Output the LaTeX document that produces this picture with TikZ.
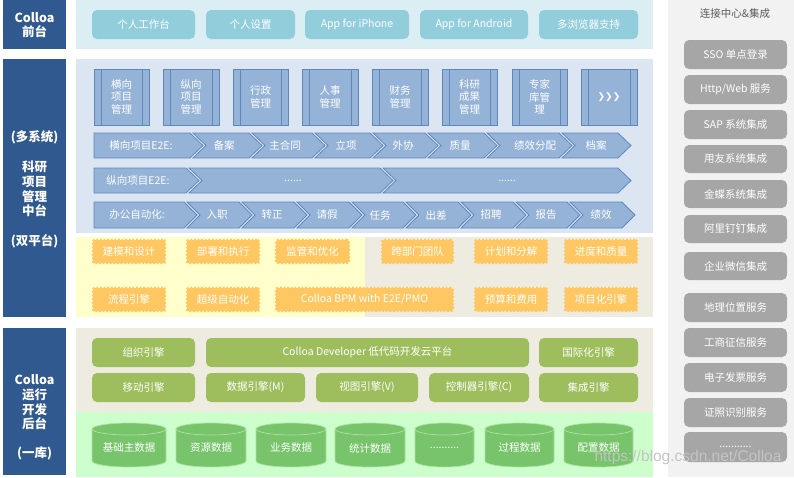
\documentclass[tikz,border=0pt]{standalone}
\usepackage{fontspec}
\setmainfont{Noto Sans CJK SC}
\newfontfamily\wmfont{Liberation Sans}
\newfontfamily\djv{DejaVu Sans}
\definecolor{navy}{HTML}{30598F}
\definecolor{topbg}{HTML}{DAEEF3}
\definecolor{topbtn}{HTML}{92CDDC}
\definecolor{midbg}{HTML}{DCE6F2}
\definecolor{modfill}{HTML}{95B3D7}
\definecolor{modline}{HTML}{5F86BD}
\definecolor{ylbg}{HTML}{FFFFCC}
\definecolor{beige}{HTML}{EEECE1}
\definecolor{badgec}{HTML}{FFC761}
\definecolor{grnbtn}{HTML}{9EBE5E}
\definecolor{grnbg}{HTML}{CCFFCC}
\definecolor{cylf}{HTML}{77C46B}
\definecolor{cyll}{HTML}{B0E0A8}
\definecolor{rpbg}{HTML}{F2F2F2}
\definecolor{graybtn}{HTML}{A6A6A6}
\definecolor{ttl}{HTML}{595959}
\definecolor{wmc}{HTML}{C4C4C4}
\tikzset{
  txtbase/.style={inner sep=0pt, outer sep=0pt, align=center, font=\fontsize{10.5}{12.5}\selectfont, text=white},
  panel/.style={inner sep=0pt, outer sep=0pt},
  topb/.style={txtbase, fill=topbtn, rounded corners=5pt},
  modb/.style={txtbase, fill=modfill, draw=modline, line width=0.8pt},
  chevs/.style={fill=modfill, draw=modline, line width=0.8pt},
  badge/.style={txtbase, fill=badgec, draw=badgec, line width=2.4pt, dash pattern=on 1.8pt off 1.8pt, rounded corners=2pt},
  grnb/.style={txtbase, fill=grnbtn, rounded corners=5pt},
  grayb/.style={txtbase, fill=graybtn, rounded corners=5pt},
  navyb/.style={panel, fill=navy},
  lefttxt/.style={inner sep=0pt, text=white, font=\bfseries\fontsize{12.5}{14.7}\selectfont, align=center},
  lbl/.style={inner sep=0pt, text=white, font=\fontsize{10.5}{12.5}\selectfont},
}
\newcommand\mkbox[7]{\node[#1, minimum width={(#5)-(#3)}, minimum height={(#6)-(#4)}] (#2) at ({((#3)+(#5))/2},{((#4)+(#6))/2}) {#7};}
\newcommand\modbox[4]{\mkbox{modb}{#1}{#2}{69}{#3}{125}{#4}
  \draw[modline, line width=0.8pt] ([xshift=7pt]#1.north west) -- ([xshift=7pt]#1.south west);
  \draw[modline, line width=0.8pt] ([xshift=-7pt]#1.north east) -- ([xshift=-7pt]#1.south east);}
\newcommand\pent[7]{\draw[chevs] (#2,#4) -- ({#3-13},#4) -- (#3,{(#4+#5)/2}) -- ({#3-13},#5) -- (#2,#5) -- cycle;
  \node[lbl] (#1) at (#6,{(#4+#5)/2}) {#7};}
\newcommand\chev[7]{\draw[chevs] (#2,#4) -- ({#3-13},#4) -- (#3,{(#4+#5)/2}) -- ({#3-13},#5) -- (#2,#5) -- ({#2+13},{(#4+#5)/2}) -- cycle;
  \node[lbl] (#1) at (#6,{(#4+#5)/2}) {#7};}
\newcommand\cyl[4]{\pgfmathsetmacro\cylrx{((#3)-(#2))/2}
  \filldraw[fill=cylf, draw=cyll, line width=0.7pt] (#2,429) -- (#2,461) arc[start angle=180, end angle=360, x radius={\cylrx pt}, y radius=6pt] -- (#3,429) arc[start angle=0, end angle=180, x radius={\cylrx pt}, y radius=6pt] -- cycle;
  \draw[cyll, line width=0.7pt] (#2,429) arc[start angle=180, end angle=360, x radius={\cylrx pt}, y radius=6pt];
  \node[lbl] (#1) at ({((#2)+(#3))/2},448) {#4};}
\begin{document}
\begin{tikzpicture}[x=1pt,y=-1pt]
\useasboundingbox (0,0) rectangle (794,477);
\fill[white] (0,0) rectangle (794,477);
% panels
\mkbox{panel, fill=topbg}{ptop}{76}{0}{653}{49}{}
\mkbox{panel, fill=midbg}{pmid}{76}{59}{653}{233}{}
\mkbox{panel, fill=ylbg}{pyel}{76}{237}{365}{317}{}
\mkbox{panel, fill=beige}{pbei}{365}{237}{653}{317}{}
\mkbox{panel, fill=beige}{pdev}{76}{328}{653}{412}{}
\mkbox{panel, fill=grnbg}{pgrn}{76}{412}{653}{477}{}
\mkbox{panel, fill=rpbg}{pright}{668}{0}{794}{477}{}
% left column
\mkbox{navyb}{L1}{3}{0}{66}{49}{}
\mkbox{navyb}{L2}{3}{59}{66}{317}{}
\mkbox{navyb}{L3}{3}{328}{66}{475}{}
\node[lefttxt] (l1t) at (34.5,25) {Colloa\\前台};
\node[lefttxt] (l2a) at (34.5,137) {(多系统)};
\node[lefttxt] (l2b) at (34.5,189) {科研\\项目\\管理\\中台};
\node[lefttxt] (l2c) at (34.5,241) {(双平台)};
\node[lefttxt] (l3a) at (34.5,402.5) {Colloa\\运行\\开发\\后台};
\node[lefttxt] (l3b) at (34.5,453) {(一库)};
% top buttons
\mkbox{topb}{t1}{92}{10}{195}{39}{个人工作台}
\mkbox{topb}{t2}{206}{10}{295}{39}{个人设置}
\mkbox{topb}{t3}{305}{10}{409}{39}{App for iPhone}
\mkbox{topb}{t4}{420}{10}{528}{39}{App for Android}
\mkbox{topb}{t5}{539}{10}{638}{39}{多浏览器支持}
% modules
\modbox{m1}{94}{149}{横向\\项目\\管理}
\modbox{m2}{163}{219}{纵向\\项目\\管理}
\modbox{m3}{233}{288}{行政\\管理}
\modbox{m4}{302}{358}{人事\\管理}
\modbox{m5}{372}{428}{财务\\管理}
\modbox{m6}{442}{497}{科研\\成果\\管理}
\modbox{m7}{512}{567}{专家\\库管\\理}
\modbox{m8}{581}{637}{{\djv\fontsize{9}{10}\selectfont ❯❯❯}}
% chevron row 1
\pent{r1a}{94}{203}{133}{158}{141}{横向项目E2E:}
\chev{r1b}{193}{262}{133}{158}{224}{备案}
\chev{r1c}{252}{325}{133}{158}{285}{主合同}
\chev{r1d}{315}{383}{133}{158}{346}{立项}
\chev{r1e}{373}{438}{133}{158}{403}{外协}
\chev{r1f}{428}{497}{133}{158}{460}{质量}
\chev{r1g}{487}{572}{133}{158}{535}{绩效分配}
\chev{r1h}{562}{631}{133}{158}{596}{档案}
% chevron row 2
\pent{r2a}{94}{199}{168}{193}{138}{纵向项目E2E:}
\chev{r2b}{189}{393}{168}{193}{293}{......}
\chev{r2c}{383}{631}{168}{193}{507}{......}
% chevron row 3
\pent{r3a}{94}{197}{202}{228}{137}{办公自动化:}
\chev{r3b}{187}{252}{202}{228}{217}{入职}
\chev{r3c}{242}{307}{202}{228}{272}{转正}
\chev{r3d}{297}{362}{202}{228}{327}{请假}
\chev{r3e}{352}{416}{202}{228}{380}{任务}
\chev{r3f}{406}{471}{202}{228}{436}{出差}
\chev{r3g}{461}{526}{202}{228}{491}{招聘}
\chev{r3h}{516}{580}{202}{228}{546}{报告}
\chev{r3i}{570}{635}{202}{228}{601}{绩效}
% badges
\mkbox{badge}{b1}{93}{240}{165}{263}{建模和设计}
\mkbox{badge}{b2}{187}{240}{259}{263}{部署和执行}
\mkbox{badge}{b3}{276}{240}{349}{263}{监管和优化}
\mkbox{badge}{b4}{382}{240}{453}{263}{跨部门团队}
\mkbox{badge}{b5}{475}{240}{547}{263}{计划和分解}
\mkbox{badge}{b6}{565}{240}{637}{263}{进度和质量}
\mkbox{badge}{b7}{93}{288}{165}{311}{流程引擎}
\mkbox{badge}{b8}{187}{288}{259}{311}{超级自动化}
\mkbox{badge}{b9}{276}{288}{453}{311}{Colloa BPM with E2E/PMO}
\mkbox{badge}{b10}{475}{288}{547}{311}{预算和费用}
\mkbox{badge}{b11}{565}{288}{637}{311}{项目化引擎}
% green buttons
\mkbox{grnb}{g1}{92}{338}{195}{367}{组织引擎}
\mkbox{grnb}{g2}{206}{338}{529}{367}{Colloa Developer 低代码开发云平台}
\mkbox{grnb}{g3}{539}{338}{638}{367}{国际化引擎}
\mkbox{grnb}{g4}{92}{373}{195}{402}{移动引擎}
\mkbox{grnb}{g5}{206}{373}{305}{402}{数据引擎(M)}
\mkbox{grnb}{g6}{316}{373}{418}{402}{视图引擎(V)}
\mkbox{grnb}{g7}{429}{373}{529}{402}{控制器引擎(C)}
\mkbox{grnb}{g8}{539}{373}{638}{402}{集成引擎}
% cylinders
\cyl{c1}{92}{166}{基础主数据}
\cyl{c2}{176}{246}{资源数据}
\cyl{c3}{256}{326}{业务数据}
\cyl{c4}{335}{405}{统计数据}
\cyl{c5}{415}{474}{..........}
\cyl{c6}{485}{554}{过程数据}
\cyl{c7}{564}{633}{配置数据}
% right panel
\node[inner sep=0pt, text=ttl, font=\fontsize{10.5}{12.5}\selectfont] (rtitle) at (735,14) {连接中心\&集成};
\mkbox{grayb}{s1}{684}{40}{787}{69}{SSO 单点登录}
\mkbox{grayb}{s2}{684}{75}{787}{104}{Http/Web 服务}
\mkbox{grayb}{s3}{684}{110}{787}{139}{SAP 系统集成}
\mkbox{grayb}{s4}{684}{145}{787}{173}{用友系统集成}
\mkbox{grayb}{s5}{684}{180}{787}{208}{金蝶系统集成}
\mkbox{grayb}{s6}{684}{215}{787}{243}{阿里钉钉集成}
\mkbox{grayb}{s7}{684}{252}{787}{280}{企业微信集成}
\mkbox{grayb}{s8}{684}{293}{787}{322}{地理位置服务}
\mkbox{grayb}{s9}{684}{328}{787}{357}{工商征信服务}
\mkbox{grayb}{s10}{684}{363}{787}{392}{电子发票服务}
\mkbox{grayb}{s11}{684}{398}{787}{427}{证照识别服务}
\mkbox{grayb}{s12}{684}{432}{787}{462}{...........}
% watermark
\node[inner sep=0pt, text=wmc, font=\wmfont\fontsize{15.5}{17}\selectfont] (wm) at (688,457) {https://blog.csdn.net/Colloa};
\end{tikzpicture}
\end{document}
